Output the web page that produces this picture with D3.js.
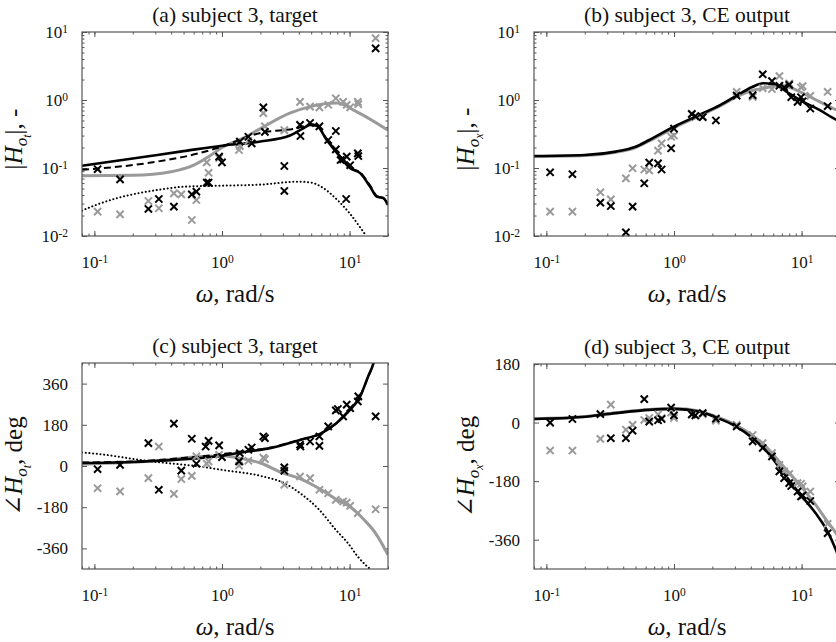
<!DOCTYPE html>
<html>
<head>
<meta charset="utf-8">
<script src="https://cdn.jsdelivr.net/npm/d3@7"></script>
<style>
  body { margin: 0; background: #fff; }
  text { font-family: "Liberation Serif", "DejaVu Serif", serif; fill: #111; }
</style>
</head>
<body>
<div id="chart"></div>
<script>
// ---- data ----
// (a) |H_ot| magnitude
var aLineBlack = [[0.08,0.108],[0.2,0.138],[0.5,0.177],[1,0.213],[2,0.245],[3.41,0.3],[4.3,0.38],[4.9,0.43],[5.52,0.42],[6.62,0.258],[8.41,0.147],[10.1,0.099],[12.1,0.084],[14.5,0.053],[16.3,0.038],[18.4,0.036],[20,0.0286]];
var aLineDashed = [[0.08,0.094],[0.26,0.118],[0.67,0.166],[1.1,0.22],[1.6,0.29],[2.2,0.34],[3,0.36],[4,0.39],[4.9,0.44],[5.52,0.43],[6.62,0.265],[8.41,0.15],[10.1,0.101],[12.1,0.086],[14.5,0.055],[16.3,0.039],[18.4,0.036],[20,0.029]];
var aLineGray = [[0.08,0.077],[0.2,0.078],[0.4,0.088],[0.6,0.11],[0.8,0.15],[1,0.2],[1.5,0.28],[2,0.38],[3.4,0.64],[4.9,0.8],[7.9,0.9],[11.4,0.67],[20,0.36]];
var aLineDotted = [[0.08,0.0236],[0.1,0.028],[0.15,0.036],[0.2,0.041],[0.3,0.047],[0.5,0.053],[1,0.055],[2,0.057],[4,0.063],[5,0.061],[6,0.053],[8,0.034],[10,0.0216],[12,0.0137],[13.5,0.01]];
var aMarkBlack = [[0.106,0.096],[0.159,0.068],[0.265,0.025],[0.32,0.035],[0.42,0.027],[0.58,0.041],[0.63,0.045],[0.76,0.061],[0.785,0.061],[0.95,0.147],[1.0,0.121],[1.38,0.244],[1.61,0.288],[1.71,0.23],[2.11,0.78],[2.17,0.34],[3.08,0.107],[3.08,0.046],[4.09,0.43],[4.12,0.295],[4.9,0.46],[5.8,0.41],[6.8,0.258],[7.8,0.35],[7.8,0.188],[8.5,0.131],[8.9,0.134],[9.5,0.147],[10.1,0.11],[9.4,0.035],[11.6,0.164],[11.7,0.15],[16.0,5.75]];
var aMarkGray = [[0.106,0.0228],[0.159,0.0208],[0.265,0.0327],[0.32,0.0256],[0.42,0.0424],[0.48,0.041],[0.58,0.0172],[0.63,0.0338],[0.76,0.121],[0.785,0.085],[0.95,0.14],[1.36,0.184],[1.38,0.21],[1.61,0.25],[2.11,0.64],[2.17,0.41],[3.08,0.36],[4.09,0.94],[4.9,0.8],[5.8,0.78],[6.8,0.85],[7.8,1.06],[8.9,0.94],[9.5,0.85],[10.1,0.78],[11.6,0.94],[11.7,0.87],[16.0,8.1]];

// (b) |H_ox| magnitude
var bLineBlack = [[0.08,0.15],[0.2,0.155],[0.35,0.174],[0.5,0.205],[0.64,0.258],[1,0.405],[1.57,0.6],[2.3,0.84],[3.2,1.2],[4.1,1.55],[5.0,1.76],[6.0,1.72],[7.64,1.32],[10.3,0.94],[13.9,0.71],[17.7,0.54],[20,0.48]];
var bLineGray = [[0.08,0.148],[0.2,0.153],[0.35,0.17],[0.5,0.2],[0.64,0.25],[1,0.39],[1.57,0.58],[2.3,0.82],[3.2,1.15],[4.1,1.38],[5.0,1.48],[6.3,1.6],[7.64,1.57],[10.3,1.25],[13.9,0.94],[17.7,0.75],[20,0.68]];
var bMarkBlack = [[0.107,0.0865],[0.16,0.081],[0.265,0.031],[0.32,0.0276],[0.42,0.0113],[0.474,0.027],[0.585,0.0596],[0.64,0.12],[0.75,0.117],[0.8,0.095],[0.95,0.195],[1.0,0.38],[1.38,0.62],[1.47,0.58],[1.68,0.56],[2.13,0.5],[3.1,1.16],[4.14,1.18],[4.96,2.39],[5.86,1.9],[6.7,1.62],[7.3,1.53],[8.0,1.67],[8.3,1.1],[9.3,0.94],[9.9,1.1],[10.2,0.96],[11.7,0.75],[16.0,0.81]];
var bMarkGray = [[0.107,0.0228],[0.16,0.0228],[0.265,0.0439],[0.32,0.0346],[0.42,0.0705],[0.474,0.099],[0.585,0.095],[0.64,0.092],[0.75,0.18],[0.8,0.23],[0.95,0.288],[1.0,0.3],[1.38,0.63],[1.47,0.57],[1.68,0.57],[3.1,1.32],[4.14,1.11],[4.96,1.49],[5.86,1.45],[6.7,2.25],[7.3,1.6],[8.0,1.75],[9.9,1.53],[10.2,1.6],[11.7,1.15],[16.0,1.32]];

// (c) phase of H_ot, deg
var cLineBlack = [[0.08,13],[0.3,22],[1,45],[1.6,63],[2.38,78],[4.08,114],[5.86,140],[7.92,188],[10.1,246],[12.1,304],[14,392],[15.4,450],[16,490]];
var cLineDashed = [[0.08,15],[0.3,25],[0.5,35],[1,52],[1.6,67],[2.38,80],[4.08,115],[5.86,140],[7.92,188],[10.1,246],[12.1,304],[14,392],[15.4,450],[16,490]];
var cLineGray = [[0.08,8],[0.3,23],[0.7,42],[1,45],[1.5,30],[2,13],[3,-31],[4,-53],[6,-104],[8,-148],[10,-177],[13,-235],[16,-294],[20,-388]];
var cLineDotted = [[0.08,59],[0.11,52],[0.15,42],[0.2,31],[0.26,23],[0.37,13],[0.67,-2],[1,-17],[2.1,-46],[3.08,-75],[4.1,-119],[5.8,-192],[7.8,-279],[9.7,-337],[11.6,-396],[16,-470]];
var cMarkBlack = [[0.106,-14],[0.159,5],[0.265,100],[0.32,-104],[0.42,185],[0.48,-20],[0.58,119],[0.63,10],[0.745,85],[0.785,110],[0.95,90],[1.0,39],[1.36,20],[1.38,56],[1.61,71],[1.71,81],[2.11,129],[2.17,122],[3.08,-6],[3.08,-21],[4.09,93],[4.12,85],[4.9,107],[5.8,88],[5.8,129],[6.8,173],[7.8,243],[8.1,249],[8.9,217],[9.5,268],[10.1,253],[11.6,282],[11.7,304],[16.0,217]];
var cMarkGray = [[0.106,-97],[0.159,-111],[0.265,-53],[0.32,85],[0.42,-122],[0.48,-57],[0.58,-43],[0.63,42],[0.76,10],[0.785,20],[0.95,49],[1.36,2],[1.38,20],[1.61,23],[2.11,37],[2.17,30],[3.08,-82],[4.09,-46],[4.9,-53],[5.8,-104],[6.8,-119],[7.8,-148],[8.9,-155],[9.5,-160],[10.1,-174],[11.6,-206],[16.0,-189]];

// (d) phase of H_ox, deg
var dLineBlack = [[0.08,11],[0.19,17],[0.35,29],[0.64,39],[1,42],[1.57,34],[2.13,16],[3,-10],[4.14,-48],[5.2,-84],[7.1,-151],[9.6,-217],[12.9,-279],[16,-335],[18.6,-392],[20,-425]];
var dLineGray = [[0.08,12],[0.19,18],[0.35,30],[0.64,40],[1,43],[1.57,36],[2.13,18],[3,-6],[4.14,-40],[5.2,-72],[7.1,-132],[9.6,-190],[12.9,-253],[16,-305],[18.6,-340],[20,-360]];
var dMarkBlack = [[0.107,0],[0.16,11],[0.265,26],[0.32,-48],[0.42,-48],[0.474,-25],[0.585,72],[0.64,3],[0.75,7],[0.8,11],[0.95,46],[1.0,22],[1.38,25],[1.47,22],[1.68,29],[2.13,12],[3.1,-12],[4.14,-58],[4.96,-78],[5.86,-104],[6.7,-150],[7.3,-171],[8.0,-186],[8.3,-195],[9.3,-212],[9.9,-227],[10.2,-224],[11.7,-241],[16.0,-340]];
var dMarkGray = [[0.107,-86],[0.16,-86],[0.265,-50],[0.32,55],[0.42,-22],[0.474,-7],[0.585,8],[0.64,14],[0.75,25],[0.8,14],[0.95,31],[1.0,14],[1.38,25],[1.68,26],[2.13,6],[3.1,-7],[4.14,-38],[4.96,-63],[5.86,-94],[6.7,-130],[7.3,-150],[8.0,-158],[9.3,-186],[9.9,-188],[10.2,-196],[11.7,-212],[16.0,-311]];

var xDomain = [0.08, 20];
var xTickMajor = [0.1, 1, 10];
var magTickMajor = [0.01, 0.1, 1, 10];
var phaseTicksC = [-360, -180, 0, 180, 360];
var phaseTicksD = [-360, -180, 0, 180];

var titles = ["(a) subject 3, target", "(b) subject 3, CE output", "(c) subject 3, target", "(d) subject 3, CE output"];

// ---- layout ----
var width = 836, height = 642;
var pw = 306;
var gray = "#9a9a9a", axisCol = "#555";

var svg = d3.select("#chart").append("svg")
    .attr("width", width)
    .attr("height", height);

function minorLog(domain) {
    var out = [];
    for (var e = -3; e <= 2; e++) {
        for (var m = 1; m <= 9; m++) {
            var v = m * Math.pow(10, e);
            if (v >= domain[0] * 0.999 && v <= domain[1] * 1.001) out.push(v);
        }
    }
    return out;
}

function powLabel(sel, d) {
    var e = Math.round(Math.log10(d));
    sel.text(null);
    sel.append("tspan").text("10");
    sel.append("tspan").attr("dy", "-0.45em").attr("font-size", "11.5px").text(String(e));
}

// parts: [text, size, dy, italic]
function richLabel(g, parts) {
    var t = g.append("text").attr("text-anchor", "middle");
    parts.forEach(function(p) {
        var s = t.append("tspan").text(p[0]).attr("font-size", p[1] + "px");
        if (p[2]) s.attr("dy", p[2]);
        if (p[3]) s.attr("font-style", "italic");
    });
    return t;
}

var panels = [
    {left: 82,  top: 32,  h: 204, log: true,  yDomain: [0.01, 10], sub: "t", title: titles[0],
     lines: [[aLineGray, "gray"], [aLineDotted, "dot"], [aLineDashed, "dash"], [aLineBlack, "black"]],
     marks: [[aMarkGray, gray], [aMarkBlack, "#000"]]},
    {left: 534, top: 32,  h: 204, log: true,  yDomain: [0.01, 10], sub: "x", title: titles[1],
     lines: [[bLineGray, "gray"], [bLineBlack, "black"]],
     marks: [[bMarkGray, gray], [bMarkBlack, "#000"]]},
    {left: 82,  top: 363, h: 206, log: false, yDomain: [-450, 450], ticks: phaseTicksC, sub: "t", title: titles[2],
     lines: [[cLineGray, "gray"], [cLineDotted, "dot"], [cLineDashed, "dash"], [cLineBlack, "black"]],
     marks: [[cMarkGray, gray], [cMarkBlack, "#000"]]},
    {left: 534, top: 364, h: 205, log: false, yDomain: [-450, 180], ticks: phaseTicksD, sub: "x", title: titles[3],
     lines: [[dLineGray, "gray"], [dLineBlack, "black"]],
     marks: [[dMarkGray, gray], [dMarkBlack, "#000"]]}
];

panels.forEach(function(p, i) {
    var g = svg.append("g").attr("transform", "translate(" + p.left + "," + p.top + ")");
    var x = d3.scaleLog().domain(xDomain).range([0, pw]);
    var y = p.log ? d3.scaleLog().domain(p.yDomain).range([p.h, 0])
                  : d3.scaleLinear().domain(p.yDomain).range([p.h, 0]);

    g.append("clipPath").attr("id", "clip" + i)
        .append("rect").attr("width", pw).attr("height", p.h);

    // ticks, inward on all four sides
    var xMin = minorLog(xDomain);
    g.append("g").attr("transform", "translate(0," + p.h + ")")
        .call(d3.axisBottom(x).tickValues(xMin).tickSize(-2.5).tickFormat(""));
    g.append("g").call(d3.axisTop(x).tickValues(xMin).tickSize(-2.5).tickFormat(""));
    var xb = g.append("g").attr("transform", "translate(0," + p.h + ")")
        .call(d3.axisBottom(x).tickValues(xTickMajor).tickSize(-5).tickPadding(0));
    g.append("g").call(d3.axisTop(x).tickValues(xTickMajor).tickSize(-5).tickFormat(""));
    xb.selectAll(".tick text")
        .attr("y", 32).attr("dy", null)
        .attr("font-size", "17px")
        .each(function(d) { powLabel(d3.select(this), d); });

    var yb;
    if (p.log) {
        var yMin = minorLog(p.yDomain);
        g.append("g").call(d3.axisLeft(y).tickValues(yMin).tickSize(-2.5).tickFormat(""));
        g.append("g").attr("transform", "translate(" + pw + ",0)")
            .call(d3.axisRight(y).tickValues(yMin).tickSize(-2.5).tickFormat(""));
        yb = g.append("g").call(d3.axisLeft(y).tickValues(magTickMajor).tickSize(-5).tickPadding(14));
        g.append("g").attr("transform", "translate(" + pw + ",0)")
            .call(d3.axisRight(y).tickValues(magTickMajor).tickSize(-5).tickFormat(""));
        yb.selectAll(".tick text").each(function(d) { powLabel(d3.select(this), d); });
    } else {
        yb = g.append("g").call(d3.axisLeft(y).tickValues(p.ticks).tickSize(-5).tickPadding(14)
            .tickFormat(function(d) { return String(d); }));
        g.append("g").attr("transform", "translate(" + pw + ",0)")
            .call(d3.axisRight(y).tickValues(p.ticks).tickSize(-5).tickFormat(""));
    }
    yb.selectAll(".tick text").attr("dy", null).attr("y", 5.5).attr("font-size", "17px");

    g.selectAll(".domain").remove();
    g.selectAll(".tick line").attr("stroke", axisCol);
    g.selectAll(".tick text").attr("fill", "#111").attr("font-family", "Liberation Serif, serif");

    // curves
    var line = d3.line()
        .x(function(d) { return x(d[0]); })
        .y(function(d) { return y(d[1]); })
        .curve(d3.curveMonotoneX);
    var plot = g.append("g").attr("clip-path", "url(#clip" + i + ")");
    p.lines.forEach(function(l) {
        var path = plot.append("path").datum(l[0]).attr("d", line).attr("fill", "none");
        if (l[1] === "gray") path.attr("stroke", gray).attr("stroke-width", 3);
        if (l[1] === "black") path.attr("stroke", "#000").attr("stroke-width", 2.6);
        if (l[1] === "dash") path.attr("stroke", "#000").attr("stroke-width", 2).attr("stroke-dasharray", "7,4");
        if (l[1] === "dot") path.attr("stroke", "#000").attr("stroke-width", 2)
            .attr("stroke-dasharray", "0.1,3.6").attr("stroke-linecap", "round");
    });

    // x markers
    p.marks.forEach(function(m) {
        g.append("g").selectAll("path")
            .data(m[0])
            .enter().append("path")
            .attr("transform", function(d) { return "translate(" + x(d[0]) + "," + y(d[1]) + ")"; })
            .attr("d", "M-3.6,-3.6L3.6,3.6M-3.6,3.6L3.6,-3.6")
            .attr("stroke", m[1])
            .attr("stroke-width", 2)
            .attr("fill", "none");
    });

    // box
    g.append("rect")
        .attr("width", pw).attr("height", p.h)
        .attr("fill", "none").attr("stroke", axisCol).attr("stroke-width", 1.2);

    // title
    g.append("text")
        .attr("x", pw / 2).attr("y", -10)
        .attr("text-anchor", "middle")
        .attr("font-size", "21.5px")
        .text(p.title);

    // x label
    var xl = g.append("g").attr("transform", "translate(" + (pw / 2) + "," + (p.h + 66) + ")");
    richLabel(xl, [["ω", 25, 0, true], [", rad/s", 25, 0, false]]);

    // y label
    var yl = g.append("g").attr("transform", "translate(-60," + (p.h / 2 + (p.log ? 5 : 0)) + ") rotate(-90)");
    var head = p.log ? ["|", 25, 0, false] : ["∠", 25, 0, false];
    var tail = p.log ? "|, -" : ", deg";
    richLabel(yl, [head, ["H", 25, 0, true], ["o", 17, 5, true], [p.sub, 12, 3.5, true], [tail, 25, -8.5, false]]);
});
</script>
</body>
</html>
